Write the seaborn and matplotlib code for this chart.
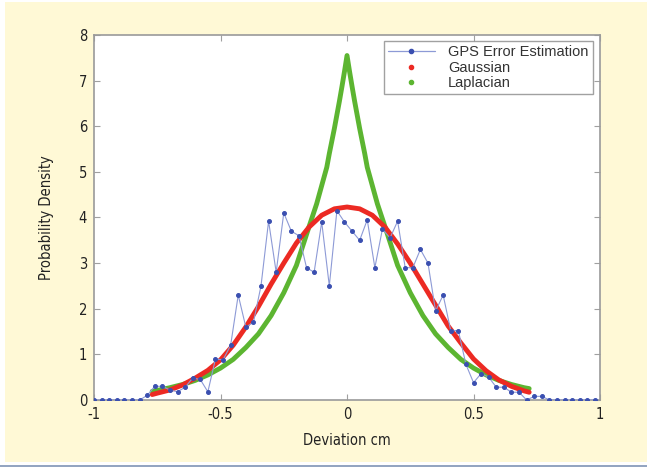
import pandas as pd
import matplotlib.pyplot as plt
import seaborn as sns
from matplotlib.lines import Line2D
from matplotlib.patches import Rectangle

# GPS error histogram (bin centres, cm) and density
gps_dev = [-1.00, -0.97, -0.94, -0.91, -0.88, -0.85, -0.82, -0.79, -0.76, -0.73,
           -0.70, -0.67, -0.64, -0.61, -0.58, -0.55, -0.52, -0.49, -0.46, -0.43,
           -0.40, -0.37, -0.34, -0.31, -0.28, -0.25, -0.22, -0.19, -0.16, -0.13,
           -0.10, -0.07, -0.04, -0.01, 0.02, 0.05, 0.08, 0.11, 0.14, 0.17,
           0.20, 0.23, 0.26, 0.29, 0.32, 0.35, 0.38, 0.41, 0.44, 0.47,
           0.50, 0.53, 0.56, 0.59, 0.62, 0.65, 0.68, 0.71, 0.74, 0.77,
           0.80, 0.83, 0.86, 0.89, 0.92, 0.95, 0.98]
gps_pdf = [0, 0, 0, 0, 0, 0, 0, 0.10, 0.30, 0.30,
           0.22, 0.18, 0.28, 0.48, 0.45, 0.18, 0.90, 0.88, 1.20, 2.30,
           1.60, 1.70, 2.50, 3.92, 2.80, 4.10, 3.70, 3.60, 2.90, 2.80,
           3.90, 2.50, 4.15, 3.90, 3.70, 3.50, 3.95, 2.90, 3.75, 3.55,
           3.92, 2.90, 2.90, 3.30, 3.00, 1.95, 2.30, 1.52, 1.52, 0.78,
           0.38, 0.58, 0.50, 0.28, 0.28, 0.17, 0.17, 0, 0.08, 0.08,
           0, 0, 0, 0, 0, 0, 0]

# fitted Gaussian
gauss_dev = [-0.77, -0.75, -0.70, -0.65, -0.60, -0.55, -0.50, -0.45, -0.40, -0.35,
             -0.30, -0.25, -0.20, -0.15, -0.10, -0.05, 0.00, 0.05, 0.10, 0.15,
             0.20, 0.25, 0.30, 0.35, 0.40, 0.45, 0.50, 0.55, 0.60, 0.65,
             0.70, 0.72]
gauss_pdf = [0.12, 0.15, 0.22, 0.33, 0.48, 0.65, 0.88, 1.20, 1.60, 2.05,
             2.54, 3.00, 3.44, 3.79, 4.05, 4.19, 4.23, 4.19, 4.05, 3.79,
             3.42, 3.00, 2.54, 2.08, 1.62, 1.25, 0.90, 0.64, 0.44, 0.30,
             0.20, 0.17]

# fitted Laplacian
lap_dev = [-0.77, -0.75, -0.70, -0.65, -0.60, -0.55, -0.50, -0.45, -0.40, -0.35,
           -0.30, -0.25, -0.20, -0.15, -0.12, -0.10, -0.08, -0.07, -0.05, -0.03,
           -0.02, -0.01, 0.00, 0.01, 0.02, 0.03, 0.05, 0.07, 0.08, 0.10,
           0.12, 0.15, 0.20, 0.25, 0.30, 0.35, 0.40, 0.45, 0.50, 0.55,
           0.60, 0.65, 0.70, 0.72]
lap_pdf = [0.19, 0.21, 0.27, 0.34, 0.43, 0.55, 0.70, 0.89, 1.15, 1.45,
           1.85, 2.35, 2.95, 3.80, 4.30, 4.70, 5.10, 5.40, 5.95, 6.55,
           6.87, 7.20, 7.55, 7.20, 6.87, 6.55, 5.95, 5.40, 5.10, 4.70,
           4.30, 3.80, 2.95, 2.35, 1.85, 1.45, 1.15, 0.89, 0.70, 0.55,
           0.43, 0.34, 0.27, 0.25]

gps = pd.DataFrame({"dev": gps_dev, "pdf": gps_pdf})
gauss = pd.DataFrame({"dev": gauss_dev, "pdf": gauss_pdf})
lap = pd.DataFrame({"dev": lap_dev, "pdf": lap_pdf})

sns.set_style("ticks")
plt.rcParams["font.family"] = ["DejaVu Sans"]
plt.rcParams["font.stretch"] = "condensed"

fig = plt.figure(figsize=(6.47, 4.69), dpi=100)
fig.patch.set_facecolor("white")
fig.patches.append(Rectangle((0.008, 0.015), 0.992, 0.98, transform=fig.transFigure,
                             facecolor="#fff9d6", edgecolor="none", zorder=-10))
fig.add_artist(Line2D([0, 1], [0.006, 0.006], transform=fig.transFigure,
                      color="#7f93b5", linewidth=1.2))

ax = fig.add_axes([0.1453, 0.1471, 0.7821, 0.7783])
ax.set_facecolor("white")

red = "#ec2a23"
green = "#5cb531"
blue_line = "#8d9ad6"
blue_dot = "#3a4fb0"

sns.lineplot(data=lap, x="dev", y="pdf", color=green, linewidth=3.5, ax=ax,
             sort=False, estimator=None, zorder=3)
sns.lineplot(data=gauss, x="dev", y="pdf", color=red, linewidth=3.5, ax=ax,
             sort=False, estimator=None, zorder=4)
sns.lineplot(data=gps, x="dev", y="pdf", color=blue_line, linewidth=0.8, ax=ax,
             sort=False, estimator=None, zorder=5, marker="o", markersize=2.8,
             markerfacecolor=blue_dot, markeredgecolor=blue_dot)

ax.set_xlim(-1, 1)
ax.set_ylim(0, 8)
ax.set_xticks([-1, -0.5, 0, 0.5, 1])
ax.set_xticklabels(["-1", "-0.5", "0", "0.5", "1"])
ax.set_yticks(range(0, 9))
ax.tick_params(direction="in", length=4, color="#a0a0a0", labelsize=10.5,
               labelcolor="#222222", top=True, right=True, pad=5)
for s in ax.spines.values():
    s.set_color("#9a9a9a")
    s.set_linewidth(1.2)

ax.set_xlabel("Deviation cm", fontsize=10.5, color="#222222", labelpad=8)
ax.set_ylabel("Probability Density", fontsize=10.5, color="#222222", labelpad=18)

handles = [
    Line2D([], [], color=blue_line, linewidth=0.9, marker="o", markersize=3,
           markerfacecolor=blue_dot, markeredgecolor=blue_dot),
    Line2D([], [], color=red, linestyle="none", marker="o", markersize=3),
    Line2D([], [], color=green, linestyle="none", marker="o", markersize=3),
]
leg = ax.legend(handles, ["GPS Error Estimation", "Gaussian", "Laplacian"],
                loc="upper right", bbox_to_anchor=(0.997, 1.0), borderaxespad=0.4,
                frameon=True, fancybox=False, handlelength=3.2, borderpad=0.3,
                labelspacing=0.1, handletextpad=0.9,
                prop={"family": ["Liberation Sans", "DejaVu Sans"], "size": 10.5})
for t in leg.get_texts():
    t.set_color("#333333")
leg.get_frame().set_edgecolor("#8a8a8a")
leg.get_frame().set_linewidth(1.0)

fig.savefig("out.png", dpi=100, facecolor=fig.get_facecolor())
